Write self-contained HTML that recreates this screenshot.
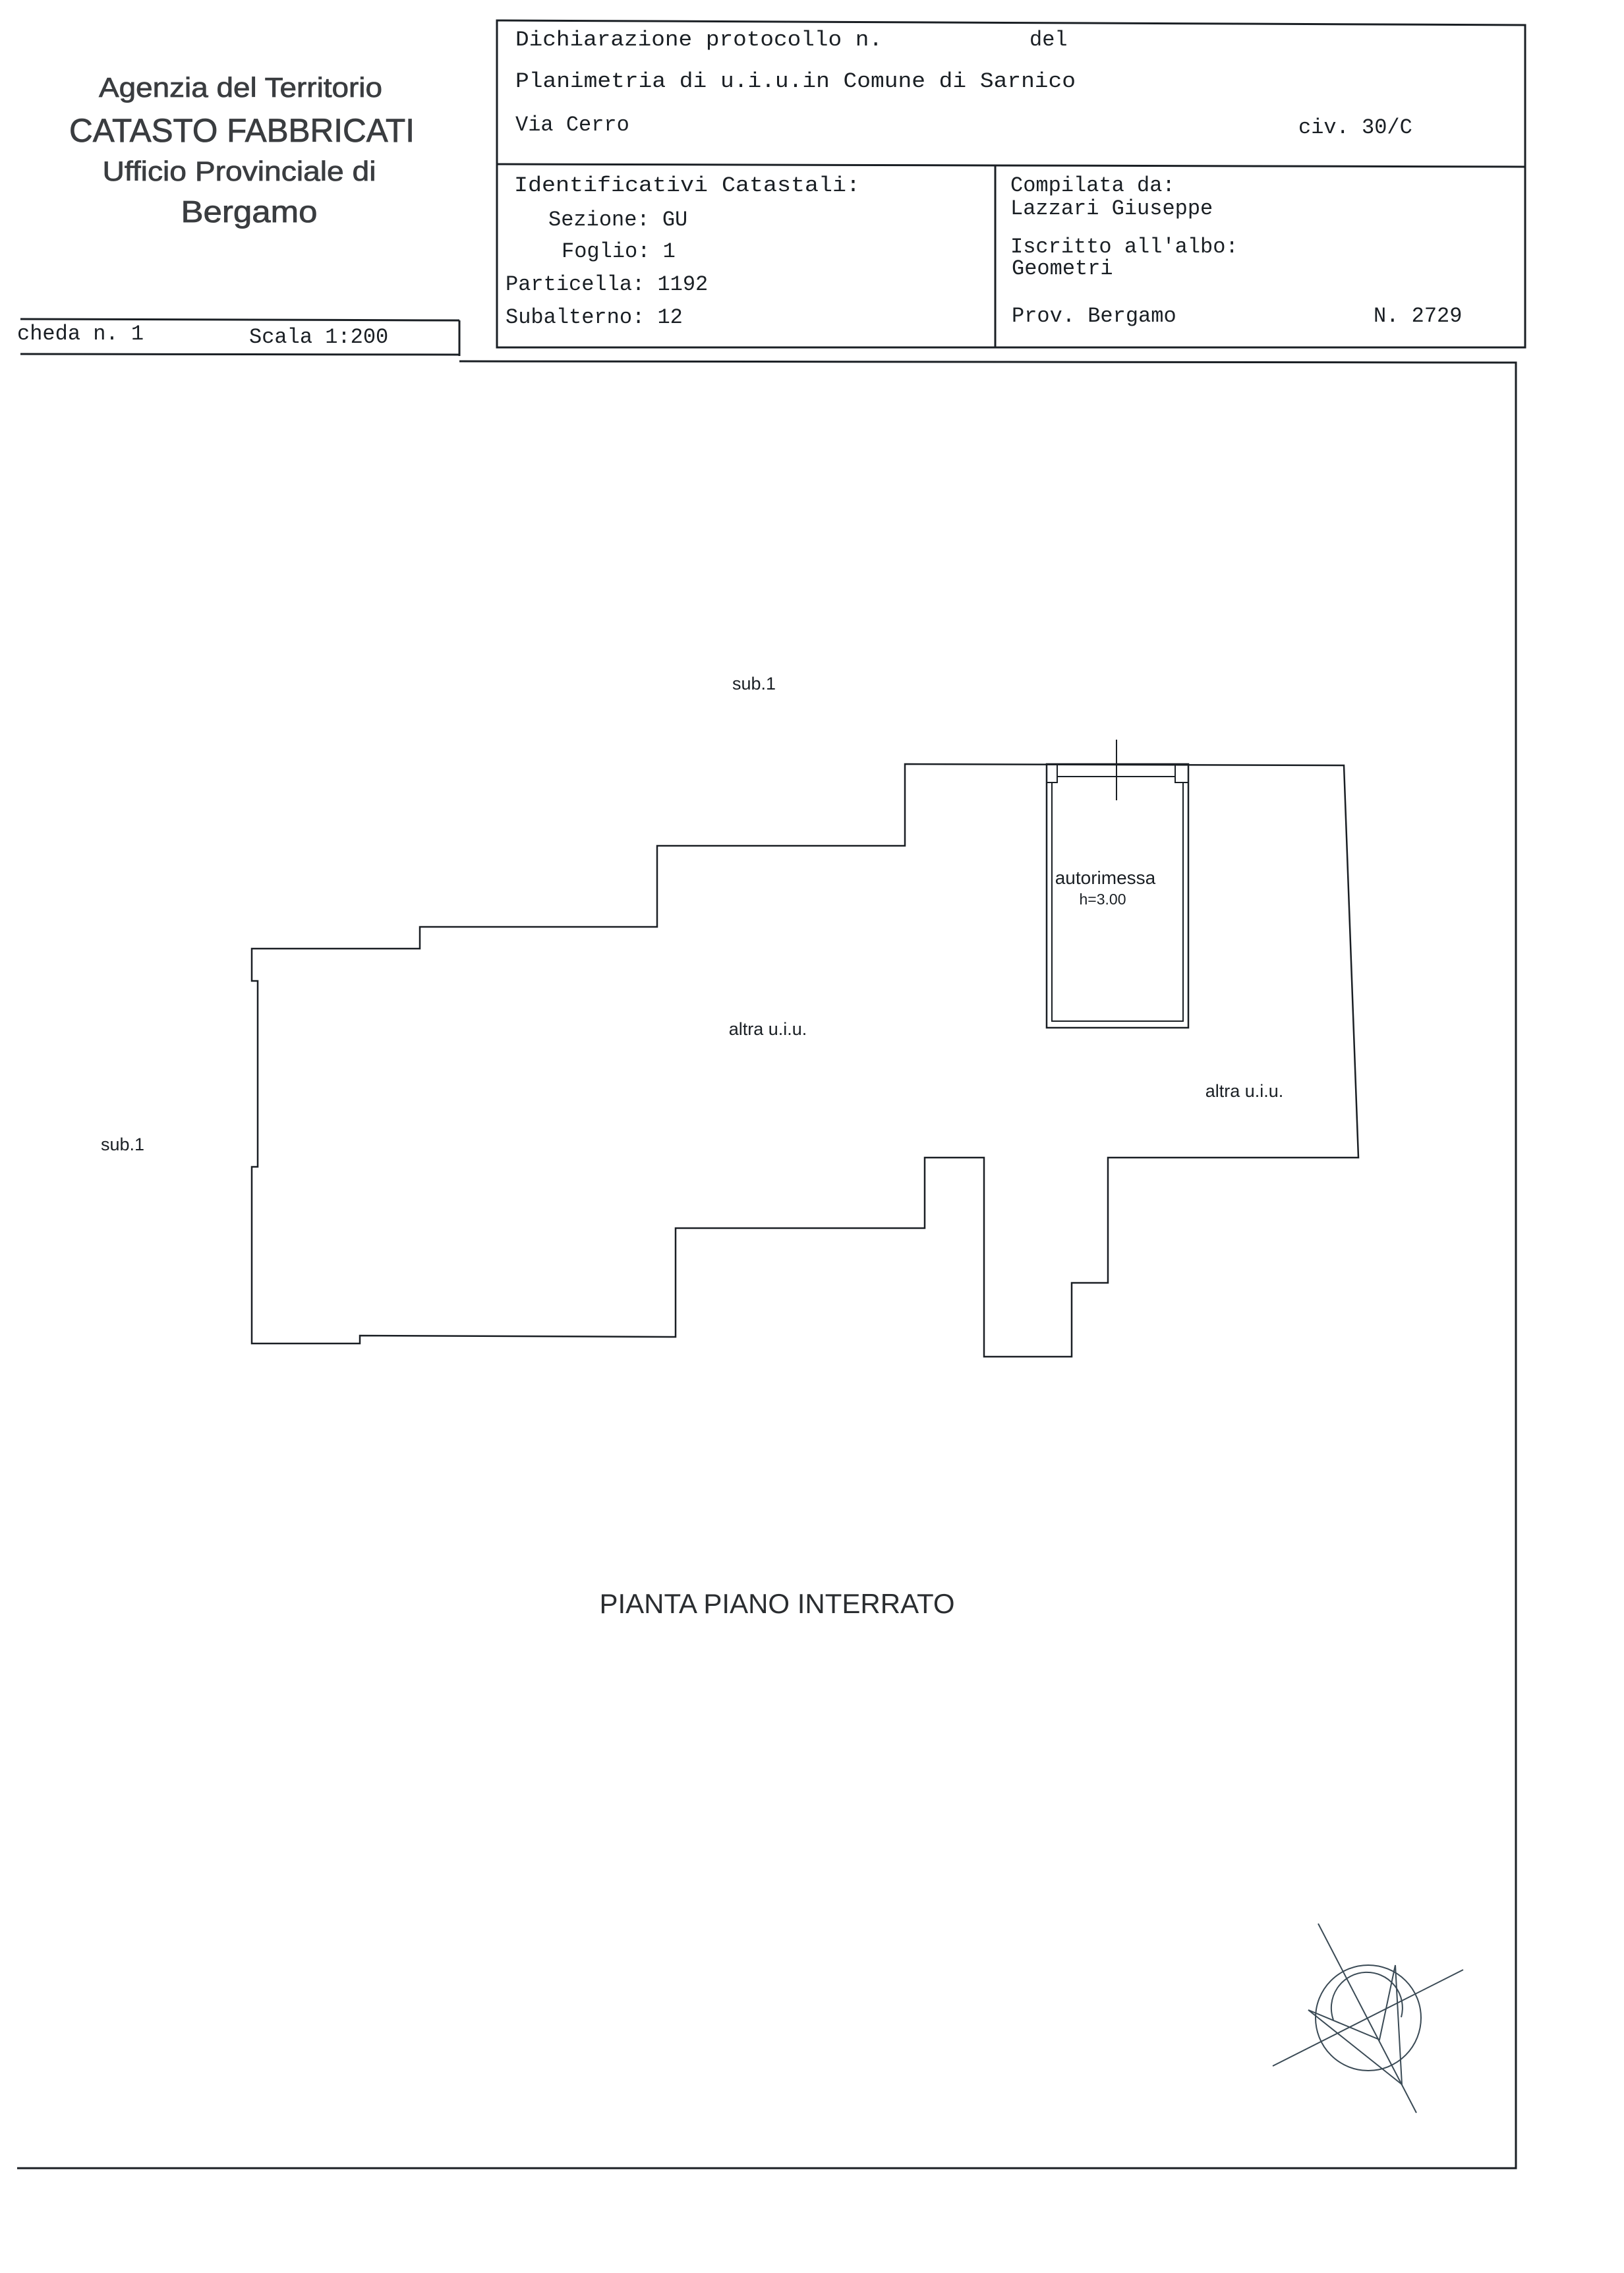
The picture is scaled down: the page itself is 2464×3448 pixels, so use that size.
<!DOCTYPE html>
<html><head><meta charset="utf-8"><style>html,body{margin:0;padding:0;background:#fff}svg{display:block}</style></head>
<body>
<svg width="2464" height="3448" viewBox="0 0 2464 3448" xmlns="http://www.w3.org/2000/svg">
<g fill="none" stroke="#1a1f24" stroke-width="3">
<path d="M754 31 L2314 38 L2314 527 L754 527 Z"/>
<line x1="754" y1="249" x2="2314" y2="253"/>
<line x1="1510" y1="251" x2="1510" y2="527"/>
<line x1="31" y1="484" x2="697" y2="486"/>
<line x1="697" y1="486" x2="697" y2="540"/>
<line x1="31" y1="537" x2="697" y2="538"/>
<path d="M697 548 L2300 550 L2300 3289 L26 3289"/>
<path stroke-width="2.5" d="M1373 1159 L2039 1161 L2061 1756 L1681 1756 L1681 1946 L1626 1946 L1626 2058 L1493 2058 L1493 1756 L1403 1756 L1403 1863 L1025 1863 L1025 2028 L546 2026 L546 2038 L382 2038 L382 1770 L391 1770 L391 1488 L382 1488 L382 1439 L637 1439 L637 1406 L997 1406 L997 1283 L1373 1283 Z"/>
<rect stroke-width="2.5" x="1588" y="1159" width="215" height="400"/>
<path stroke-width="2" d="M1596 1187 L1596 1549 L1795 1549 L1795 1187"/>
<rect stroke-width="2" x="1588" y="1159" width="16" height="28"/>
<rect stroke-width="2" x="1783" y="1159" width="20" height="28"/>
<line stroke-width="2" x1="1604" y1="1178" x2="1783" y2="1178"/>
<line stroke-width="2" x1="1694" y1="1122" x2="1694" y2="1214"/>
<g stroke-width="2" stroke="#3a4a55">
<line x1="2000" y1="2918" x2="2149" y2="3205"/>
<line x1="1931" y1="3134" x2="2220" y2="2988"/>
<circle cx="2076" cy="3061" r="80"/>
<path d="M2023 3064 A54 54 0 1 1 2126 3060"/>
<path d="M1985 3049 L2093 3094 L2117 2981 L2127 3162 Z"/>
</g>
</g>
<g fill="#1a1f24" font-family="Liberation Mono, monospace" font-size="32">
<text x="782" y="69" textLength="557" lengthAdjust="spacingAndGlyphs">Dichiarazione protocollo n.</text>
<text x="1562" y="69">del</text>
<text x="782" y="132" textLength="850" lengthAdjust="spacingAndGlyphs">Planimetria di u.i.u.in Comune di Sarnico</text>
<text x="782" y="198">Via Cerro</text>
<text x="1970" y="202">civ. 30/C</text>
<text x="780" y="290" textLength="525" lengthAdjust="spacingAndGlyphs">Identificativi Catastali:</text>
<text x="832" y="342">Sezione: GU</text>
<text x="852" y="390">Foglio: 1</text>
<text x="767" y="440">Particella: 1192</text>
<text x="767" y="490">Subalterno: 12</text>
<text x="1533" y="290">Compilata da:</text>
<text x="1533" y="325">Lazzari Giuseppe</text>
<text x="1533" y="383">Iscritto all'albo:</text>
<text x="1535" y="416">Geometri</text>
<text x="1535" y="488">Prov. Bergamo</text>
<text x="2084" y="488">N. 2729</text>
<text x="26" y="515">cheda n. 1</text>
<text x="378" y="520">Scala 1:200</text>
</g>
<g fill="#3a3d40" font-family="Liberation Sans, sans-serif" text-anchor="middle" stroke="#3a3d40" stroke-width="0.8">
<text x="365" y="147" font-size="42" textLength="430" lengthAdjust="spacingAndGlyphs">Agenzia del Territorio</text>
<text x="367" y="215" font-size="50" textLength="524" lengthAdjust="spacingAndGlyphs">CATASTO FABBRICATI</text>
<text x="363" y="274" font-size="42" textLength="415" lengthAdjust="spacingAndGlyphs">Ufficio Provinciale di</text>
<text x="378" y="337" font-size="46" textLength="207" lengthAdjust="spacingAndGlyphs">Bergamo</text>
</g>
<g fill="#1a1f24" font-family="Liberation Sans, sans-serif" text-anchor="middle" font-size="27">
<text x="1144" y="1046">sub.1</text>
<text x="186" y="1745">sub.1</text>
<text x="1677" y="1341" font-size="28">autorimessa</text>
<text x="1673" y="1372" font-size="23">h=3.00</text>
<text x="1165" y="1570">altra u.i.u.</text>
<text x="1888" y="1664">altra u.i.u.</text>
<text x="1179" y="2447" font-size="42" fill="#2a2d30">PIANTA PIANO INTERRATO</text>
</g>
</svg>
</body></html>
